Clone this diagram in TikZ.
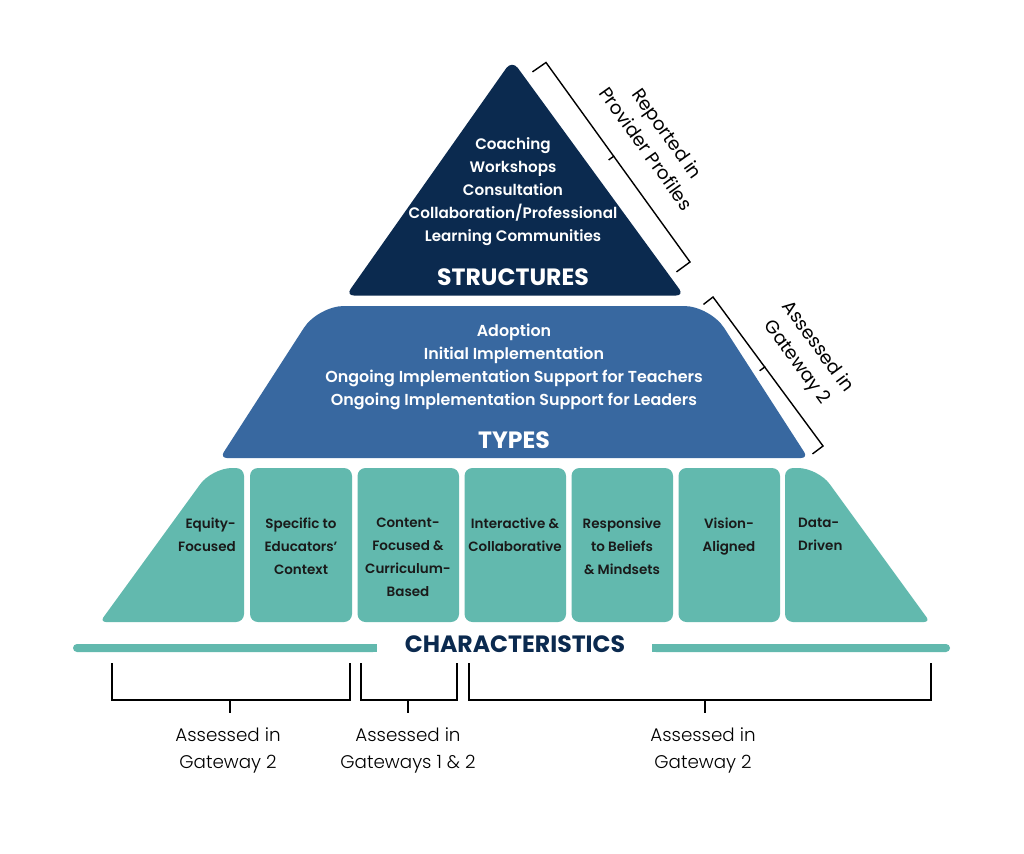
\documentclass[tikz,border=0pt]{standalone}
\usepackage{fontspec}
\usetikzlibrary{calc}
\setmainfont{Poppins}
\IfFontExistsTF{Poppins SemiBold}{\newfontfamily\semib{Poppins SemiBold}}{\newcommand\semib{\bfseries}}
\IfFontExistsTF{Poppins Light}{\newfontfamily\lightf{Poppins Light}}{\newcommand\lightf{}}
\definecolor{navyc}{HTML}{0B2A4F}
\definecolor{steelc}{HTML}{3868A0}
\definecolor{tealc}{HTML}{62B9AE}
\definecolor{inkc}{HTML}{1A1A1A}
\newcommand\rcorner[4]{-- ($(#2)!#4!(#1)$) .. controls ($(#2)!0.448*#4!(#1)$) and ($(#2)!0.448*#4!(#3)$) .. ($(#2)!#4!(#3)$)}
\tikzset{
  tritext/.style={text=white, align=center, inner sep=0, font=\semib\fontsize{15.2}{23}\selectfont},
  midtext/.style={text=white, align=center, inner sep=0, font=\semib\fontsize{15.9}{23}\selectfont},
  bigtitle/.style={inner sep=0, font=\bfseries\fontsize{23.6}{24}\selectfont},
  boxtext/.style={text=inkc, align=center, inner sep=0, anchor=north, font=\semib\fontsize{13.5}{23}\selectfont},
  note/.style={text=black, align=center, inner sep=0, font=\fontsize{18.5}{26}\selectfont},
  lownote/.style={text=black, align=center, inner sep=0, font=\lightf\fontsize{18.3}{27}\selectfont},
  bracketline/.style={draw=black, line width=1.4pt, line cap=rect},
  lowbracket/.style={draw=black, line width=2pt},
  cellbox/.style={fill=tealc, rounded corners=8pt}
}
\begin{document}
\begin{tikzpicture}[x=1pt,y=-1pt]
\useasboundingbox[fill=white] (0,0) rectangle (1024,853);

% ---------- top triangle
\coordinate (t1) at (346,295.5);
\coordinate (t2) at (512,60);
\coordinate (t3) at (684,295.5);
\fill[navyc] ($(t1)!0.5!(t3)$) \rcorner{t3}{t1}{t2}{8pt} \rcorner{t1}{t2}{t3}{10pt} \rcorner{t2}{t3}{t1}{8pt} -- cycle;

% ---------- middle trapezoid
\coordinate (m1) at (220,458);
\coordinate (m2) at (318,306);
\coordinate (m3) at (710,306);
\coordinate (m4) at (808,458);
\fill[steelc] ($(m1)!0.5!(m4)$) \rcorner{m4}{m1}{m2}{7pt} \rcorner{m1}{m2}{m3}{26pt} \rcorner{m2}{m3}{m4}{26pt} \rcorner{m3}{m4}{m1}{7pt} -- cycle;

% ---------- bottom cells
\coordinate (a1) at (100,622);
\coordinate (a2) at (212,468);
\coordinate (a3) at (244,468);
\coordinate (a4) at (244,622);
\fill[tealc] ($(a3)!0.5!(a4)$) \rcorner{a3}{a4}{a1}{8pt} \rcorner{a4}{a1}{a2}{6pt} \rcorner{a1}{a2}{a3}{20pt} \rcorner{a2}{a3}{a4}{8pt} -- cycle;
\fill[cellbox] (250,468) rectangle (352,622);
\fill[cellbox] (357.5,468) rectangle (459,622);
\fill[cellbox] (464.5,468) rectangle (566,622);
\fill[cellbox] (571.5,468) rectangle (673,622);
\fill[cellbox] (678.5,468) rectangle (780,622);
\coordinate (g1) at (785,468);
\coordinate (g2) at (818,468);
\coordinate (g3) at (930,622);
\coordinate (g4) at (785,622);
\fill[tealc] ($(g4)!0.5!(g1)$) \rcorner{g4}{g1}{g2}{8pt} \rcorner{g1}{g2}{g3}{20pt} \rcorner{g2}{g3}{g4}{6pt} \rcorner{g3}{g4}{g1}{8pt} -- cycle;

% ---------- texts
\node[tritext] (strlist) at (513,192) {Coaching\\Workshops\\Consultation\\Collaboration/Professional\\Learning Communities};
\node[bigtitle, text=white] (structures) at (513,277) {STRUCTURES};
\node[midtext] (typelist) at (514,366.5) {Adoption\\Initial Implementation\\Ongoing Implementation Support for Teachers\\Ongoing Implementation Support for Leaders};
\node[bigtitle, text=white] (types) at (514,440) {TYPES};

\node[boxtext, anchor=north east, align=right] (c1) at (236,518) {Equity-\\Focused};
\node[boxtext] (c2) at (301,518) {Specific to\\Educators’\\Context};
\node[boxtext] (c3) at (408,518) {Content-\\Focused \&\\Curriculum-\\Based};
\node[boxtext] (c4) at (515,518) {Interactive \&\\Collaborative};
\node[boxtext] (c5) at (622,518) {Responsive\\to Beliefs\\\& Mindsets};
\node[boxtext] (c6) at (729,518) {Vision-\\Aligned};
\node[boxtext, anchor=north west, align=left] (c7) at (798,518) {Data-\\Driven};

% ---------- characteristics bar
\fill[tealc, rounded corners=4pt] (73,644) rectangle (377,652);
\fill[tealc] (250,644) rectangle (377,652);
\fill[tealc, rounded corners=4pt] (652,644) rectangle (950,652);
\fill[tealc] (652,644) rectangle (800,652);
\node[bigtitle, text=navyc] (chars) at (515,644) {CHARACTERISTICS};

% ---------- right brackets
\coordinate (rb1h) at (533,71.5);
\coordinate (rb1) at (546,62.5);
\coordinate (rb2) at (690,262);
\coordinate (rb2h) at (677,271.5);
\coordinate (rbm) at ($(rb1)!0.47!(rb2)$);
\coordinate (rbt) at ($(rbm)+(-4.5,3.3)$);
\draw[bracketline] (rb1h) -- (rb1) -- (rb2) -- (rb2h);
\draw[bracketline] (rbm) -- (rbt);
\node[note, rotate=-54.5] (rep) at (657,141) {Reported in\\Provider Profiles};

\coordinate (gb1h) at (704,304);
\coordinate (gb1) at (713,297);
\coordinate (gb2) at (823,446);
\coordinate (gb2h) at (813,453.5);
\coordinate (gbm) at ($(gb1)!0.47!(gb2)$);
\coordinate (gbt) at ($(gbm)+(-4.5,3.3)$);
\draw[bracketline] (gb1h) -- (gb1) -- (gb2) -- (gb2h);
\draw[bracketline] (gbm) -- (gbt);
\node[note, rotate=-53.7] (gw) at (807,355) {Assessed in\\Gateway 2};

% ---------- bottom brackets
\coordinate (p1) at (112,663); \coordinate (p2) at (350,663);
\coordinate (q1) at (361,663); \coordinate (q2) at (457,663);
\coordinate (s1) at (469,663); \coordinate (s2) at (931,663);
\draw[lowbracket] (p1) -- ++(0,37) -| (p2);
\draw[lowbracket] (q1) -- ++(0,37) -| (q2);
\draw[lowbracket] (s1) -- ++(0,37) -| (s2);
\coordinate (pt) at (230,700); \coordinate (qt) at (408,700); \coordinate (st) at (705,700);
\draw[lowbracket] (pt) -- ++(0,13);
\draw[lowbracket] (qt) -- ++(0,13);
\draw[lowbracket] (st) -- ++(0,13);
\node[lownote] (l1) at (228,750) {Assessed in\\Gateway 2};
\node[lownote] (l2) at (408,750) {Assessed in\\Gateways 1 \& 2};
\node[lownote] (l3) at (703,750) {Assessed in\\Gateway 2};
\end{tikzpicture}
\end{document}
